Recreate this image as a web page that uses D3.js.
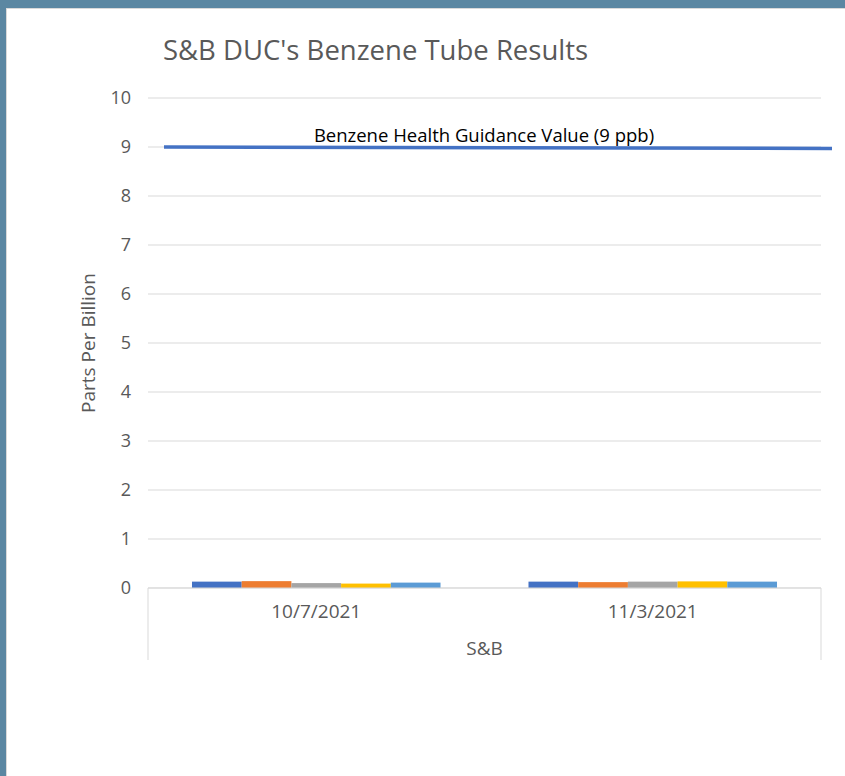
<!DOCTYPE html>
<html>
<head>
<meta charset="utf-8">
<script src="https://cdn.jsdelivr.net/npm/d3@7"></script>
<style>
  html, body { margin: 0; padding: 0; background: #fff; }
  svg { display: block; font-family: "Open Sans", "Noto Sans", sans-serif; }
</style>
</head>
<body>
<script>
// chart data
var dates = ["10/7/2021", "11/3/2021"];
var groupName = "S&B";
var seriesNames = ["s1", "s2", "s3", "s4", "s5"];
var seriesColors = ["#4472c4", "#ed7d31", "#a5a5a5", "#ffc000", "#5b9bd5"];
// one row per series, one value per date
var values = [
  [0.13, 0.13],
  [0.14, 0.12],
  [0.10, 0.13],
  [0.09, 0.135],
  [0.11, 0.13]
];
var yTicks = [0, 1, 2, 3, 4, 5, 6, 7, 8, 9, 10];
var guidanceValue = 9;
var guidanceLabel = "Benzene Health Guidance Value (9 ppb)";
var title = "S&B DUC's Benzene Tube Results";
var yLabel = "Parts Per Billion";

var W = 845, H = 776;
var plotL = 148, plotR = 821, plotT = 98, plotB = 588;
var fontFam = '"Open Sans", "Noto Sans", sans-serif';

var svg = d3.select("body").append("svg")
  .attr("width", W).attr("height", H);

// frame (top/left blue edge)
svg.append("rect").attr("x", 0).attr("y", 0).attr("width", W).attr("height", H).attr("fill", "#5b87a2");
svg.append("rect").attr("x", 6).attr("y", 8).attr("width", W - 6).attr("height", H - 8).attr("fill", "#d9d9d9");
svg.append("rect").attr("x", 7).attr("y", 9).attr("width", W - 7).attr("height", H - 9).attr("fill", "#fff");

var y = d3.scaleLinear().domain([0, 10]).range([plotB, plotT]);
var x0 = d3.scaleBand().domain(dates).range([plotL, plotR]);
var x1 = d3.scaleBand().domain(seriesNames).range([0, x0.bandwidth()]).paddingOuter(0.885);

// gridlines
svg.append("g").selectAll("line").data(yTicks).join("line")
  .attr("x1", plotL).attr("x2", plotR)
  .attr("y1", d => y(d)).attr("y2", d => y(d))
  .attr("stroke", "#d9d9d9").attr("stroke-width", 1);

// y axis labels
var yAxis = d3.axisLeft(y).tickValues(yTicks).tickSize(0).tickPadding(0);
var gy = svg.append("g").attr("transform", "translate(131,0)").call(yAxis)
  .attr("font-family", fontFam);
gy.select(".domain").remove();
gy.selectAll("text").attr("fill", "#595959").style("font-size", "18px");

// bars
var groups = svg.append("g").selectAll("g").data(seriesNames).join("g")
  .attr("fill", (d, i) => seriesColors[i]);
groups.selectAll("rect").data((s, i) => dates.map((d, j) => ({ date: d, s: s, v: values[i][j] })))
  .join("rect")
  .attr("x", d => x0(d.date) + x1(d.s))
  .attr("width", x1.bandwidth())
  .attr("y", d => y(d.v))
  .attr("height", d => y(0) - y(d.v));

// category axis (two levels)
svg.append("line").attr("x1", plotL).attr("x2", plotR).attr("y1", plotB).attr("y2", plotB)
  .attr("stroke", "#d9d9d9");
[plotL, plotR].forEach(function (xx) {
  svg.append("line").attr("x1", xx).attr("x2", xx).attr("y1", plotB).attr("y2", 660)
    .attr("stroke", "#d9d9d9");
});
svg.append("g").selectAll("text").data(dates).join("text")
  .attr("x", d => x0(d) + x0.bandwidth() / 2).attr("y", 618)
  .attr("text-anchor", "middle").attr("fill", "#595959").style("font-size", "19px")
  .text(d => d);
svg.append("text").attr("x", (plotL + plotR) / 2).attr("y", 655)
  .attr("text-anchor", "middle").attr("fill", "#595959").style("font-size", "19px")
  .text(groupName);

// guidance line
svg.append("line").attr("x1", 164).attr("x2", 832)
  .attr("y1", y(guidanceValue)).attr("y2", y(guidanceValue) + 1.5)
  .attr("stroke", "#4472c4").attr("stroke-width", 3.5);
svg.append("text").attr("x", 484).attr("y", y(guidanceValue) - 5)
  .attr("text-anchor", "middle").attr("fill", "#000").style("font-size", "18.5px")
  .text(guidanceLabel);

// title
svg.append("text").attr("x", 163).attr("y", 60)
  .attr("fill", "#595959").style("font-size", "27.5px").text(title);

// y label
svg.append("text").attr("transform", "translate(95," + ((plotT + plotB) / 2) + ") rotate(-90)")
  .attr("text-anchor", "middle").attr("fill", "#595959").style("font-size", "19px")
  .text(yLabel);
</script>
</body>
</html>
